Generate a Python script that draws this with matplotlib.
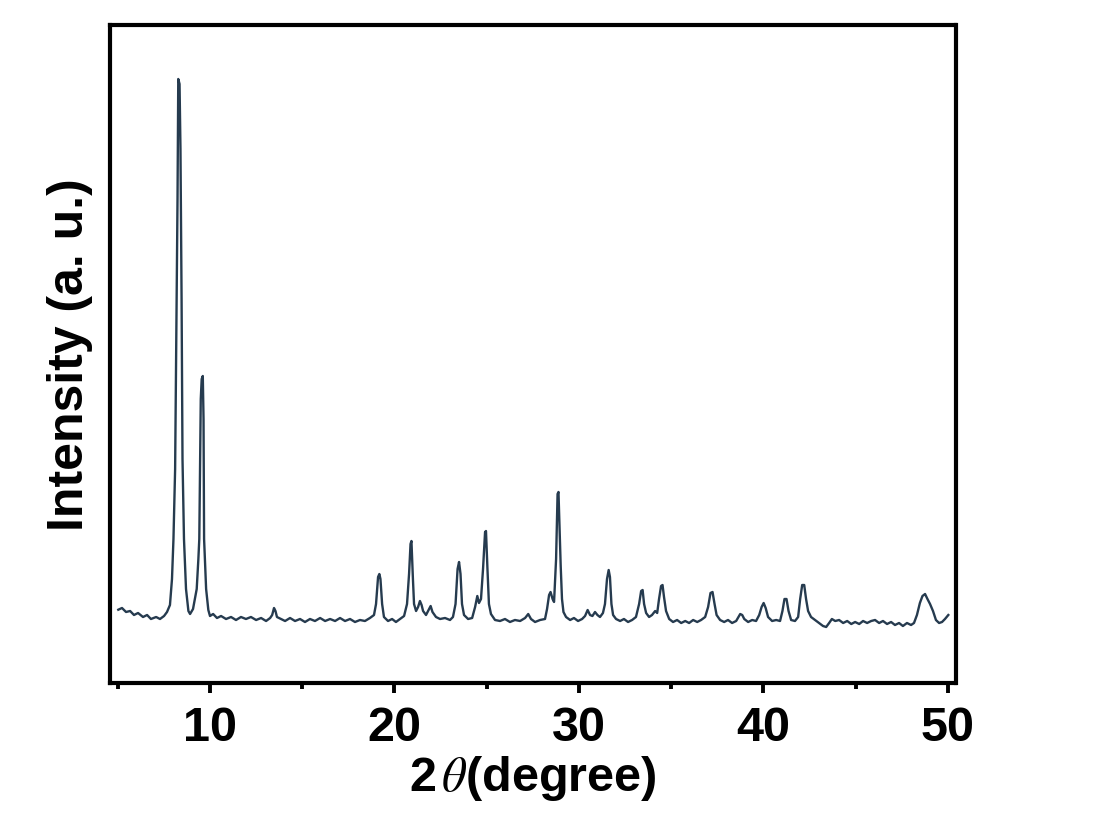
import matplotlib
matplotlib.use("Agg")
import matplotlib.pyplot as plt
from matplotlib.ticker import MultipleLocator

plt.rcParams['font.family'] = ['Liberation Sans', 'DejaVu Sans']
plt.rcParams['mathtext.fontset'] = 'stix'

# XRD pattern
two_theta = [
    5.03, 5.23, 5.45, 5.67, 5.88, 6.10, 6.37, 6.59, 6.80, 7.08, 7.29, 7.51, 7.67, 7.83,
    7.94, 8.02, 8.11, 8.19, 8.24, 8.28, 8.35, 8.40, 8.46, 8.51, 8.59, 8.70, 8.83, 8.92,
    9.08, 9.28, 9.37, 9.42, 9.50, 9.55, 9.61, 9.65, 9.68, 9.79, 9.91, 10.00, 10.17, 10.38,
    10.60, 10.87, 11.14, 11.41, 11.68, 11.95, 12.22, 12.50, 12.77, 13.04, 13.26, 13.37,
    13.47, 13.55, 13.63, 13.85, 14.07, 14.34, 14.61, 14.88, 15.15, 15.42, 15.69, 15.97,
    16.24, 16.51, 16.78, 17.05, 17.32, 17.59, 17.86, 18.13, 18.40, 18.67, 18.89, 19.00,
    19.11, 19.18, 19.24, 19.33, 19.43, 19.65, 19.87, 20.08, 20.30, 20.52, 20.68, 20.79,
    20.87, 20.92, 21.00, 21.06, 21.17, 21.28, 21.38, 21.47, 21.55, 21.71, 21.85, 21.96,
    22.06, 22.25, 22.47, 22.74, 23.01, 23.17, 23.31, 23.42, 23.50, 23.58, 23.66, 23.77,
    23.99, 24.21, 24.37, 24.49, 24.58, 24.69, 24.80, 24.91, 24.96, 25.04, 25.12, 25.23,
    25.45, 25.72, 25.99, 26.26, 26.53, 26.81, 27.08, 27.25, 27.40, 27.62, 27.89, 28.16,
    28.27, 28.38, 28.46, 28.57, 28.65, 28.76, 28.84, 28.89, 28.95, 29.01, 29.08, 29.16,
    29.30, 29.52, 29.73, 29.95, 30.17, 30.33, 30.47, 30.60, 30.73, 30.87, 31.00, 31.14,
    31.30, 31.41, 31.52, 31.61, 31.68, 31.76, 31.85, 32.01, 32.23, 32.44, 32.66, 32.88,
    33.09, 33.26, 33.37, 33.45, 33.53, 33.64, 33.80, 33.96, 34.13, 34.24, 34.34, 34.45,
    34.53, 34.61, 34.72, 34.89, 35.10, 35.32, 35.54, 35.76, 35.97, 36.19, 36.41, 36.62,
    36.84, 37.00, 37.13, 37.24, 37.35, 37.46, 37.65, 37.87, 38.08, 38.30, 38.52, 38.74,
    38.85, 38.96, 39.17, 39.39, 39.60, 39.77, 39.90, 40.01, 40.12, 40.25, 40.47, 40.69,
    40.90, 41.03, 41.14, 41.25, 41.36, 41.50, 41.71, 41.88, 41.99, 42.10, 42.21, 42.31,
    42.42, 42.58, 42.80, 43.02, 43.23, 43.40, 43.56, 43.71, 43.89, 44.10, 44.32, 44.54,
    44.76, 44.97, 45.19, 45.40, 45.62, 45.84, 46.05, 46.27, 46.48, 46.70, 46.92, 47.13,
    47.35, 47.56, 47.78, 48.00, 48.16, 48.32, 48.48, 48.62, 48.76, 48.89, 49.03, 49.19,
    49.35, 49.52, 49.68, 49.84, 50.02,
]
intensity = [
    743, 760, 720, 730, 690, 710, 670, 690, 650, 670, 650, 680, 720, 790,
    1050, 1450, 2150, 3850, 4850, 6050, 6000, 5350, 3850, 2250, 1450, 950, 730, 700,
    750, 950, 1250, 1450, 2850, 3050, 3080, 2650, 1450, 950, 740, 680, 700, 660,
    680, 650, 670, 640, 670, 650, 670, 640, 660, 630, 660, 690,
    760, 730, 670, 650, 630, 660, 630, 650, 620, 650, 630, 660,
    630, 650, 630, 660, 630, 650, 620, 640, 630, 660, 690, 800,
    1070, 1100, 1050, 800, 670, 630, 650, 620, 650, 680, 800, 1100,
    1400, 1430, 1050, 800, 730, 770, 830, 790, 730, 690, 740, 780,
    720, 670, 650, 660, 640, 670, 800, 1150, 1220, 1100, 800, 690,
    650, 660, 770, 880, 810, 850, 1150, 1520, 1530, 1150, 800, 700,
    640, 630, 650, 620, 640, 630, 660, 700, 650, 620, 640, 650,
    750, 890, 920, 850, 820, 1250, 1900, 1920, 1550, 1180, 850, 720,
    670, 640, 660, 630, 650, 680, 740, 690, 680, 720, 690, 670,
    710, 800, 1050, 1140, 1070, 800, 690, 650, 630, 650, 620, 640,
    670, 800, 930, 940, 800, 710, 670, 690, 730, 710, 850, 980,
    990, 870, 730, 650, 620, 640, 610, 630, 610, 640, 620, 640,
    670, 770, 910, 920, 800, 690, 640, 620, 640, 610, 630, 700,
    690, 650, 620, 640, 630, 690, 770, 810, 760, 670, 630, 640,
    630, 730, 850, 850, 730, 640, 630, 670, 850, 990, 990, 850,
    730, 670, 640, 610, 580, 570, 610, 650, 630, 640, 610, 630,
    600, 620, 600, 630, 610, 630, 640, 610, 630, 600, 620, 590,
    610, 580, 610, 590, 610, 690, 810, 880, 900, 850, 800, 730,
    640, 610, 620, 650, 690,
]

x_ticks = [10, 20, 30, 40, 50]

fig = plt.figure(figsize=(11.15, 8.20), dpi=100)
ax = fig.add_axes([110 / 1115, 1 - 684 / 820, (955.5 - 110) / 1115, (684 - 25.5) / 820])

ax.plot(two_theta, intensity, color='#263b4f', linewidth=1.7)

ax.set_xlim(4.58, 50.41)
ax.set_ylim(10, 6595)
ax.set_xticks(x_ticks)
ax.xaxis.set_minor_locator(MultipleLocator(5))
ax.set_yticks([])

for sp in ax.spines.values():
    sp.set_linewidth(3.0)
    sp.set_color('black')

ax.tick_params(axis='x', which='major', direction='out', length=7, width=2.8, pad=9,
               labelsize=35)
ax.tick_params(axis='x', which='minor', direction='out', length=4, width=2.8)
for lbl in ax.get_xticklabels():
    lbl.set_fontweight('bold')

ax.set_xlabel(r'2$\,\theta$(degree)', fontsize=35, fontweight='bold', labelpad=2)
ax.set_ylabel('Intensity (a. u.)', fontsize=36, fontweight='bold', labelpad=12)

fig.savefig('out.png', dpi=100)
